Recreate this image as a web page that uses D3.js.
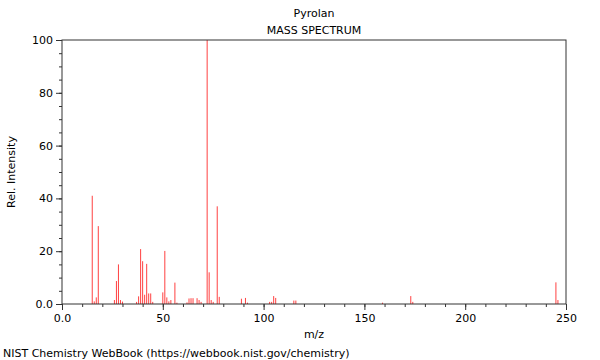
<!DOCTYPE html>
<html>
<head>
<meta charset="utf-8">
<script src="https://cdn.jsdelivr.net/npm/d3@7"></script>
<style>
body { margin: 0; background: #fff; }
text { font-family: "DejaVu Sans", sans-serif; }
</style>
</head>
<body>
<script>
// peaks
const mz = [15, 16, 17, 18, 26, 27, 28, 29, 30, 37, 38, 39, 40, 41, 42, 43, 44, 45,
  50, 51, 52, 53, 54, 56, 57, 62, 63, 64, 65, 67, 68, 69, 72, 73, 74, 75, 77, 78,
  89, 91, 92, 103, 104, 105, 106, 115, 116, 159, 173, 174, 245, 246];
const intensity = [41, 1, 2.5, 29.5, 1.5, 8.7, 15, 1.5, 0.9, 0.8, 2.9, 20.8, 16.2, 3.5, 15.2, 4, 4, 0.8,
  4.4, 20.1, 2.5, 1, 1.5, 8.1, 0.5, 0.6, 2.1, 2.2, 2.2, 2.2, 1.5, 0.8, 100, 12, 1.5, 0.8, 37, 2.7,
  2, 2.3, 0.5, 0.8, 0.8, 3, 2.3, 1.3, 1.3, 0.5, 3, 0.8, 8.2, 1.5];
const xMajor = [0, 50, 100, 150, 200, 250];
const yMajor = [0, 20, 40, 60, 80, 100];

const W = 600, H = 360;
const mLeft = 62, mRight = 566, mTop = 40, mBottom = 304;

const svg = d3.select("body").append("svg")
  .attr("width", W)
  .attr("height", H);

const x = d3.scaleLinear().domain([0, 250]).range([mLeft, mRight]);
const y = d3.scaleLinear().domain([0, 100]).range([mBottom, mTop]);

const fmt = d => d === 0 ? "0.0" : String(d);

// minor ticks
svg.append("g")
  .attr("transform", `translate(0,${mBottom})`)
  .call(d3.axisBottom(x).tickValues(d3.range(0, 251, 10)).tickSize(3).tickFormat(""))
  .call(g => g.select(".domain").remove());
svg.append("g")
  .attr("transform", `translate(${mLeft},0)`)
  .call(d3.axisLeft(y).tickValues(d3.range(0, 101, 5)).tickSize(3).tickFormat(""))
  .call(g => g.select(".domain").remove());

// major ticks with labels
const xAxis = svg.append("g")
  .attr("transform", `translate(0,${mBottom})`)
  .call(d3.axisBottom(x).tickValues(xMajor).tickSize(6).tickPadding(4).tickFormat(fmt));
xAxis.select(".domain").remove();
xAxis.selectAll("text").attr("font-size", 11).attr("fill", "#000");

const yAxis = svg.append("g")
  .attr("transform", `translate(${mLeft},0)`)
  .call(d3.axisLeft(y).tickValues(yMajor).tickSize(6).tickPadding(3).tickFormat(fmt));
yAxis.select(".domain").remove();
yAxis.selectAll("text").attr("font-size", 11).attr("fill", "#000");

svg.selectAll(".tick line").attr("stroke", "#333");

// peaks
svg.append("g")
  .selectAll("line")
  .data(mz)
  .enter()
  .append("line")
  .attr("x1", d => x(d))
  .attr("x2", d => x(d))
  .attr("y1", y(0))
  .attr("y2", (d, i) => y(intensity[i]))
  .attr("stroke", "#ff4040")
  .attr("stroke-width", 1);

// frame
svg.append("rect")
  .attr("x", mLeft)
  .attr("y", mTop)
  .attr("width", mRight - mLeft)
  .attr("height", mBottom - mTop)
  .attr("fill", "none")
  .attr("stroke", "#333")
  .attr("stroke-width", 1);

// texts
svg.append("text")
  .attr("x", (mLeft + mRight) / 2)
  .attr("y", 17)
  .attr("text-anchor", "middle")
  .attr("font-size", 11)
  .text("Pyrolan");
svg.append("text")
  .attr("x", (mLeft + mRight) / 2)
  .attr("y", 34)
  .attr("text-anchor", "middle")
  .attr("font-size", 11)
  .text("MASS SPECTRUM");
svg.append("text")
  .attr("x", (mLeft + mRight) / 2)
  .attr("y", 338)
  .attr("text-anchor", "middle")
  .attr("font-size", 11)
  .text("m/z");
svg.append("text")
  .attr("transform", `translate(15,${(mTop + mBottom) / 2}) rotate(-90)`)
  .attr("text-anchor", "middle")
  .attr("font-size", 11)
  .text("Rel. Intensity");
svg.append("text")
  .attr("x", 3)
  .attr("y", 357)
  .attr("font-size", 11)
  .text("NIST Chemistry WebBook (https://webbook.nist.gov/chemistry)");
</script>
</body>
</html>
